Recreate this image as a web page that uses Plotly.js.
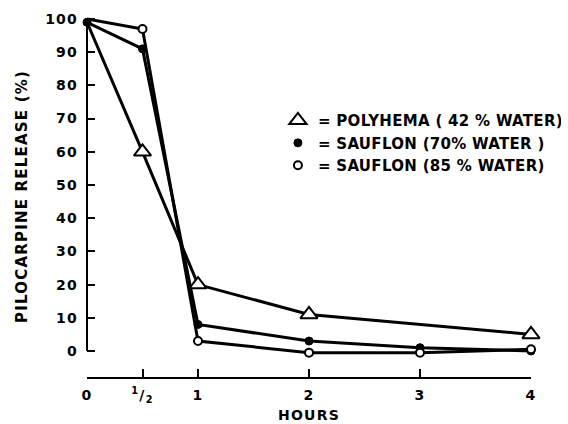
<!DOCTYPE html>
<html>
<head>
<meta charset="utf-8">
<script src="https://cdn.plot.ly/plotly-3.0.1.min.js"></script>
<style>
  html, body { margin: 0; padding: 0; background: #fff; }
  #chart { width: 568px; height: 424px; }
  .main-svg text { letter-spacing: 1.2px; }
  .main-svg text.legendtext { letter-spacing: 0.3px; }
</style>
</head>
<body>
<div id="chart"></div>
<script>
// ---- Data ----
const hours = [0, 0.5, 1, 2, 3, 4];
const polyHours = [0, 0.5, 1, 2, 4];
const polyhema = [99, 60, 20, 11, 5];
const sauflon70 = [99, 91, 8, 3, 1, 0];
const sauflon85 = [100, 97, 3, -0.5, -0.5, 0.5];
const tickVals = [0, 0.5, 1, 2, 3, 4];
const tickText = ['0', '<sup>1</sup>/<sub>2</sub>', '1', '2', '3', '4'];
const seriesNames = [
  '= POLYHEMA ( 42 % WATER)',
  '= SAUFLON (70% WATER )',
  '= SAUFLON (85 % WATER)'
];
const xTitle = 'HOURS';
const yTitle = 'PILOCARPINE RELEASE (%)';

const lineStyle = { color: '#000', width: 3 };

const traces = [
  // connecting lines
  { x: polyHours, y: polyhema, mode: 'lines', line: lineStyle, showlegend: false, cliponaxis: false, hoverinfo: 'skip' },
  { x: hours, y: sauflon70, mode: 'lines', line: lineStyle, showlegend: false, cliponaxis: false, hoverinfo: 'skip' },
  { x: hours, y: sauflon85, mode: 'lines', line: lineStyle, showlegend: false, cliponaxis: false, hoverinfo: 'skip' },
  // markers (first point is hidden in the converging blob at t = 0)
  { x: polyHours.slice(1), y: polyhema.slice(1), mode: 'markers', name: seriesNames[0], cliponaxis: false,
    marker: { symbol: 'triangle-up', size: 15, color: '#fff', line: { color: '#000', width: 2 } } },
  { x: hours, y: sauflon70, mode: 'markers', name: seriesNames[1], cliponaxis: false,
    marker: { symbol: 'circle', size: 8, color: '#000', line: { color: '#000', width: 1 } } },
  { x: hours.slice(1), y: sauflon85.slice(1), mode: 'markers', name: seriesNames[2], cliponaxis: false,
    marker: { symbol: 'circle', size: 8, color: '#fff', line: { color: '#000', width: 2 } } }
];

const font = { family: 'DejaVu Sans', size: 14, color: '#000', weight: 700 };

const layout = {
  width: 568,
  height: 424,
  margin: { l: 87, r: 37, t: 16, b: 47, pad: 0, autoexpand: false },
  paper_bgcolor: '#fff',
  plot_bgcolor: '#fff',
  font: font,
  showlegend: true,
  legend: {
    x: 0.43, y: 0.756, xanchor: 'left', yanchor: 'top',
    bgcolor: 'rgba(0,0,0,0)', borderwidth: 0,
    font: { family: 'DejaVu Sans', size: 15, color: '#000', weight: 700 },
    itemwidth: 30, tracegroupgap: 0
  },
  xaxis: {
    range: [0, 4],
    showgrid: false, zeroline: false,
    showline: true, linecolor: '#000', linewidth: 2,
    ticks: 'inside', ticklen: 8, tickwidth: 2, tickcolor: '#000',
    tickvals: tickVals, ticktext: tickText,
    tickfont: { family: 'DejaVu Sans', size: 14, color: '#000', weight: 700 },
    ticklabelstandoff: 4,
    title: { text: xTitle, standoff: 6, font: { family: 'DejaVu Sans', size: 14, color: '#000', weight: 700 } },
    fixedrange: true
  },
  yaxis: {
    range: [-7.83, 100.9],
    showgrid: false, zeroline: false,
    showline: false,
    ticks: 'inside', ticklen: 8, tickwidth: 2, tickcolor: '#000',
    tick0: 0, dtick: 10,
    tickfont: { family: 'DejaVu Sans', size: 14, color: '#000', weight: 700 },
    ticklabelstandoff: 8,
    title: { text: yTitle, standoff: 17, font: { family: 'DejaVu Sans', size: 15, color: '#000', weight: 700 } },
    fixedrange: true
  },
  shapes: [
    // y-axis line spans only 0..100
    { type: 'line', xref: 'paper', yref: 'y', x0: 0, x1: 0, y0: 0, y1: 100,
      line: { color: '#000', width: 2 }, layer: 'above' }
  ]
};

Plotly.newPlot('chart', traces, layout, { displayModeBar: false, staticPlot: true });
</script>
</body>
</html>
